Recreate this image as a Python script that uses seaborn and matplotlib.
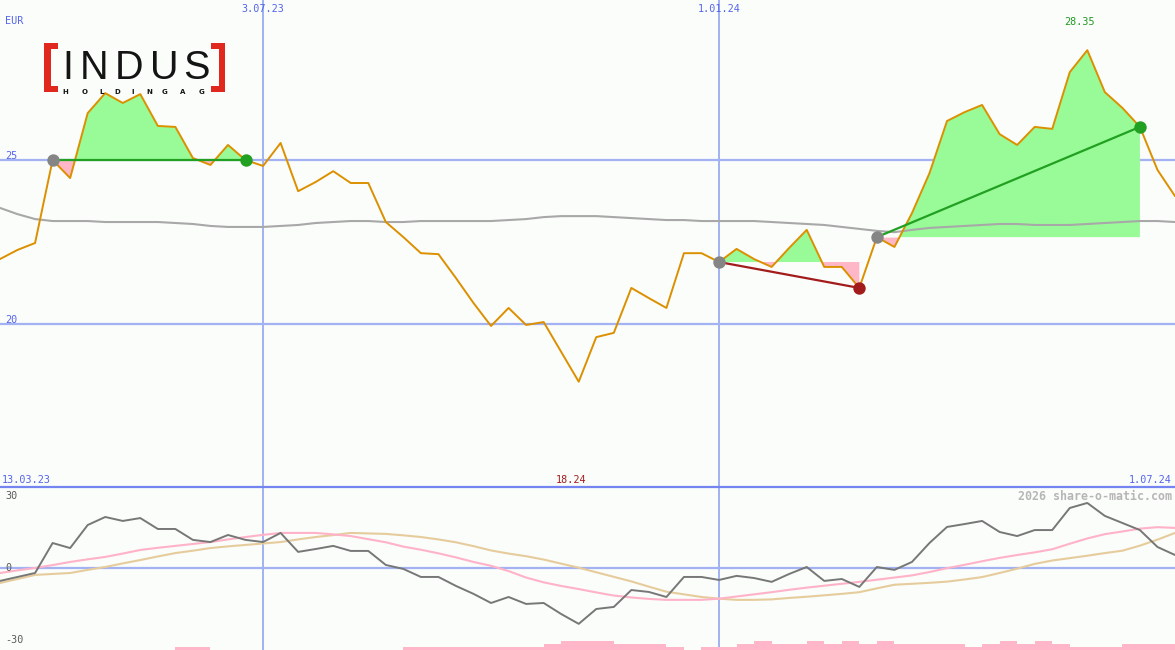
import pandas as pd
import numpy as np
import matplotlib
matplotlib.use("Agg")
import matplotlib.pyplot as plt
import matplotlib.transforms as mtransforms
from matplotlib.patches import Rectangle
import seaborn as sns

# weekly closes, EUR
weeks = pd.date_range("2023-03-20", periods=68, freq="7D")
price = [21.98, 22.26, 22.47, 25.00, 24.45, 26.43, 27.04, 26.74, 27.01, 26.04,
         26.01, 25.06, 24.85, 25.46, 25.00, 24.82, 25.52, 24.05, 24.33, 24.66,
         24.30, 24.30, 23.11, 22.65, 22.16, 22.13, 21.40, 20.64, 19.94, 20.49,
         19.97, 20.06, 19.15, 18.24, 19.60, 19.73, 21.10, 20.79, 20.49, 22.16,
         22.16, 21.89, 22.29, 21.98, 21.74, 22.32, 22.87, 21.74, 21.74, 21.10,
         22.65, 22.35, 23.38, 24.60, 26.19, 26.46, 26.68, 25.79, 25.46, 26.01,
         25.95, 27.68, 28.35, 27.07, 26.59, 26.01, 24.70, 23.90]
moving_avg = [23.54, 23.35, 23.20, 23.14, 23.14, 23.14, 23.11, 23.11, 23.11, 23.11,
              23.08, 23.05, 22.99, 22.96, 22.96, 22.96, 22.99, 23.02, 23.08, 23.11,
              23.14, 23.14, 23.11, 23.11, 23.14, 23.14, 23.14, 23.14, 23.14, 23.17,
              23.20, 23.26, 23.29, 23.29, 23.29, 23.26, 23.23, 23.20, 23.17, 23.17,
              23.14, 23.14, 23.14, 23.14, 23.11, 23.08, 23.05, 23.02, 22.96, 22.90,
              22.84, 22.80, 22.87, 22.93, 22.96, 22.99, 23.02, 23.05, 23.05, 23.02,
              23.02, 23.02, 23.05, 23.08, 23.11, 23.14, 23.14, 23.11]

# lower panel
momentum = [-5.4, -3.75, -2.1, 10.4, 8.3, 17.9, 21.25, 19.6, 20.8, 16.25,
            16.25, 11.7, 10.8, 13.75, 11.7, 10.8, 14.6, 6.7, 7.9, 9.2,
            7.1, 7.1, 1.25, -0.4, -3.75, -3.75, -7.5, -10.8, -14.6, -12.1,
            -15.0, -14.6, -19.2, -23.3, -17.1, -16.25, -9.2, -10.0, -12.1, -3.75,
            -3.75, -5.0, -3.3, -4.2, -5.8, -2.5, 0.4, -5.4, -4.6, -7.9,
            0.4, -0.8, 2.5, 10.4, 17.1, 18.3, 19.6, 15.0, 13.3, 15.8,
            15.8, 25.0, 27.1, 21.7, 18.75, 15.8, 8.75, 5.4]
signal_fast = [-2.1, -1.0, 0.0, 1.2, 2.5, 3.6, 4.6, 6.0, 7.5, 8.4,
               9.2, 10.0, 10.8, 11.9, 12.9, 13.8, 14.6, 14.6, 14.6, 14.0,
               13.3, 12.0, 10.7, 8.9, 7.6, 6.1, 4.4, 2.5, 0.9, -1.3,
               -4.0, -6.0, -7.5, -8.8, -10.2, -11.5, -12.3, -12.9, -13.3, -13.3,
               -13.3, -12.8, -11.9, -11.0, -10.1, -9.1, -8.2, -7.4, -6.6, -5.8,
               -4.9, -4.0, -3.1, -1.7, -0.1, 1.3, 2.8, 4.2, 5.4, 6.5,
               7.8, 10.1, 12.3, 14.1, 15.2, 16.4, 17.0, 16.7]
signal_slow = [-6.25, -4.6, -2.9, -2.5, -2.1, -0.8, 0.4, 1.9, 3.3, 4.8,
               6.2, 7.2, 8.3, 9.0, 9.6, 10.2, 10.8, 11.9, 12.9, 13.7,
               14.6, 14.4, 14.2, 13.6, 12.9, 11.9, 10.7, 9.1, 7.3, 6.0,
               4.9, 3.5, 1.8, 0.1, -1.8, -3.7, -5.6, -7.8, -9.9, -11.0,
               -12.1, -12.8, -13.3, -13.3, -13.1, -12.5, -12.0, -11.4, -10.8, -10.1,
               -8.5, -7.0, -6.6, -6.2, -5.7, -4.8, -3.8, -2.1, -0.3, 1.7,
               3.1, 4.1, 5.1, 6.2, 7.2, 9.3, 11.8, 14.6]
hist = [0, 0, 0, 0, 0, 0, 0, 0, 0, 0,
        1.25, 1.25, 0, 0, 0, 0, 0, 0, 0, 0,
        0, 0, 0, 1.25, 1.25, 1.25, 1.25, 1.25, 1.25, 1.25,
        1.25, 2.5, 3.75, 3.75, 3.75, 2.5, 2.5, 2.5, 1.25, 0,
        1.25, 1.25, 2.5, 3.75, 2.5, 2.5, 3.75, 2.5, 3.75, 2.5,
        3.75, 2.5, 2.5, 2.5, 2.5, 1.25, 2.5, 3.75, 2.5, 3.75,
        2.5, 1.25, 1.25, 1.25, 2.5, 2.5, 2.5, 0]

# trades: start week, end week
trades = [(3, 14), (41, 49), (50, 65)]
grid_levels = [25, 20]
osc_levels = [30, 0, -30]
marker_dates = ["2023-07-03", "2024-01-01"]
marker_labels = ["3.07.23", "1.01.24"]
range_start, range_end = "13.03.23", "1.07.24"

bg = "#fafdfa"
grid_c = "#a2b2f2"
label_c = "#5464ec"
W, H = 1175, 650

sns.set_style("white")
plt.rcParams["font.family"] = ["DejaVu Sans Mono"]

fig = plt.figure(figsize=(W / 100, H / 100), dpi=100, facecolor=bg)
ax = fig.add_axes([0, 163 / H, 1, 487 / H])
ax2 = fig.add_axes([0, 0, 1, 163 / H])

price_a = np.array(price)

for a in (ax, ax2):
    a.set_facecolor(bg)
    a.set_axis_off()
    for d in marker_dates:
        a.axvline(pd.Timestamp(d), color=grid_c, lw=1.4, zorder=0)

for lv in grid_levels:
    ax.axhline(lv, color=grid_c, lw=1.6, zorder=0)
ax2.axhline(0, color=grid_c, lw=1.6, zorder=0)

# trade fills and lines
for s, e in trades:
    level = price[s]
    xs = weeks[s:e + 1]
    ps = price_a[s:e + 1]
    ax.fill_between(xs, ps, level, where=ps >= level, interpolate=True,
                    color="#98fb98", lw=0, zorder=1)
    ax.fill_between(xs, ps, level, where=ps < level, interpolate=True,
                    color="#ffb6c6", lw=0, zorder=1)

df = pd.DataFrame({"week": weeks, "price": price, "ma": moving_avg,
                   "mom": momentum, "fast": signal_fast, "slow": signal_slow})

sns.lineplot(data=df, x="week", y="ma", ax=ax, color="#a8a8a8", lw=1.5, zorder=2)
sns.lineplot(data=df, x="week", y="price", ax=ax, color="#dc9000", lw=1.4, zorder=3)

for s, e in trades:
    win = price[e] >= price[s]
    c = "#22a022" if win else "#a31c1c"
    ax.plot([weeks[s], weeks[e]], [price[s], price[e]], color=c, lw=1.6, zorder=4)
    ax.scatter([weeks[s]], [price[s]], s=80, color="#858585", lw=0, zorder=5)
    ax.scatter([weeks[e]], [price[e]], s=80, color=c, lw=0, zorder=5)

ax.set_xlim(weeks[0], weeks[-1])
ax.set_ylim(15.03, 29.88)

# lower panel
ax2.bar(weeks, hist, width=7, align="edge", bottom=-34.2, color="#ffb6c8", lw=0, zorder=1)
sns.lineplot(data=df, x="week", y="slow", ax=ax2, color="#e6cc9c", lw=1.5, zorder=2)
sns.lineplot(data=df, x="week", y="fast", ax=ax2, color="#ffb2c8", lw=1.5, zorder=2)
sns.lineplot(data=df, x="week", y="mom", ax=ax2, color="#777777", lw=1.4, zorder=3)
ax2.set_xlim(weeks[0], weeks[-1])
ax2.set_ylim(-34.2, 33.75)

fig.add_artist(plt.Line2D([0, 1], [163 / H, 163 / H], transform=fig.transFigure,
                          color="#7484f0", lw=1.6))

# labels
fs = 7.3
top = mtransforms.blended_transform_factory(ax.transData, fig.transFigure)
for d, lab in zip(marker_dates, marker_labels):
    ax.text(pd.Timestamp(d), 1 - 12.5 / H, lab, transform=top, ha="center",
            va="baseline", color=label_c, fontsize=fs)

i_hi = int(np.argmax(price_a))
i_lo = int(np.argmin(price_a))
ax.text(weeks[i_hi] - pd.Timedelta(days=3), 1 - 25 / H, f"{price[i_hi]:.2f}", transform=top,
        ha="center", va="baseline", color="#229922", fontsize=fs)
ax.text(weeks[i_lo] - pd.Timedelta(days=3), 1 - 483 / H, f"{price[i_lo]:.2f}", transform=top,
        ha="center", va="baseline", color="#a31c1c", fontsize=fs)

left = mtransforms.blended_transform_factory(ax.transAxes, ax.transData)
ax.text(5 / W, 29.88 - 24.5 / 32.8, "EUR", transform=left, color=label_c,
        fontsize=fs, va="baseline")
for lv in grid_levels:
    ax.text(5 / W, lv + 0.04, str(lv), transform=left, color=label_c,
            fontsize=fs, va="baseline")

left2 = mtransforms.blended_transform_factory(ax2.transAxes, ax2.transData)
for lv in osc_levels:
    ax2.text(5 / W, lv - 1.3, str(lv), transform=left2, color="#5a5a5a",
             fontsize=fs, va="baseline")

fig.text(2 / W, 1 - 483 / H, range_start, color=label_c, fontsize=fs, va="baseline")
fig.text(1172 / W, 1 - 483 / H, range_end, color=label_c, fontsize=fs,
         va="baseline", ha="right")
fig.text(1172 / W, 1 - 500 / H, "2026 share-o-matic.com", color="#b6b6b6",
         fontsize=8.4, fontweight="bold", va="baseline", ha="right")

# logo
red = "#e0281e"
for x, y, w, h in [(44, 43, 6.5, 49), (44, 43, 14, 6), (44, 86, 14, 6),
                   (218.5, 43, 6.5, 49), (211, 43, 14, 6), (211, 86, 14, 6)]:
    fig.add_artist(Rectangle((x / W, 1 - (y + h) / H), w / W, h / H,
                             transform=fig.transFigure, color=red, lw=0))
for ch, x in zip("INDUS", [67.5, 94.5, 128.5, 164.5, 196]):
    fig.text(x / W, 1 - 79 / H, ch, family="Liberation Sans", fontsize=28.5,
             color="#141414", ha="center", va="baseline")
for ch, x in zip("HOLDINGAG", [65.5, 84.5, 102, 117, 133, 149.5, 164.5, 182.5, 201.5]):
    fig.text(x / W, 1 - 94.5 / H, ch, family="DejaVu Sans", fontsize=5.0,
             fontweight="bold", color="#141414", ha="center", va="baseline")

fig.savefig("out.png", dpi=100, facecolor=bg)
